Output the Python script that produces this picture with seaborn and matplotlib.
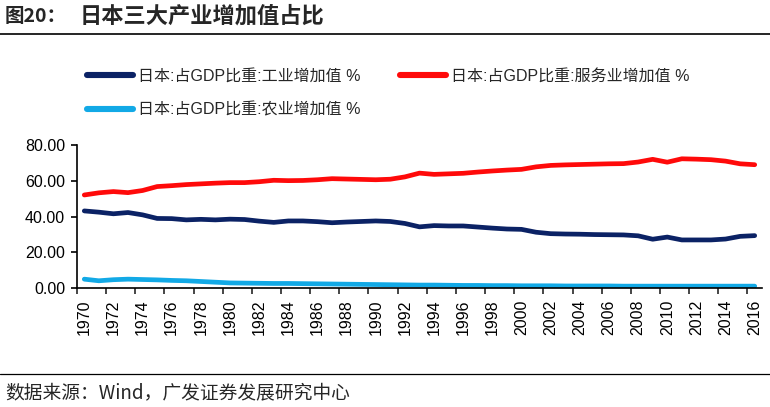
import matplotlib
matplotlib.use("Agg")
import matplotlib.pyplot as plt
from matplotlib.lines import Line2D
import seaborn as sns
import pandas as pd

years = list(range(1970, 2017))
industry = [43.2, 42.5, 41.6, 42.3, 41.0, 39.0, 38.9, 38.2, 38.5, 38.2,
            38.6, 38.4, 37.5, 36.8, 37.6, 37.6, 37.2, 36.6, 37.0, 37.3,
            37.6, 37.3, 36.2, 34.3, 35.0, 34.8, 34.8, 34.2, 33.6, 33.1,
            32.9, 31.3, 30.5, 30.3, 30.2, 30.0, 29.9, 29.8, 29.3, 27.4,
            28.6, 27.0, 27.0, 27.0, 27.5, 29.0, 29.4]
services = [52.1, 53.3, 54.0, 53.4, 54.6, 56.8, 57.3, 57.9, 58.3, 58.7,
            59.0, 59.0, 59.5, 60.3, 60.1, 60.2, 60.6, 61.2, 61.0, 60.8,
            60.6, 60.9, 62.2, 64.3, 63.6, 63.9, 64.2, 64.9, 65.5, 66.0,
            66.4, 67.8, 68.6, 68.9, 69.1, 69.3, 69.5, 69.6, 70.5, 72.0,
            70.4, 72.3, 72.1, 71.8, 71.0, 69.5, 69.0]
agriculture = [5.1, 4.2, 4.8, 5.1, 4.9, 4.7, 4.4, 4.2, 3.8, 3.4,
               3.0, 2.9, 2.8, 2.7, 2.7, 2.6, 2.5, 2.4, 2.3, 2.2,
               2.1, 2.0, 1.9, 1.8, 1.8, 1.7, 1.6, 1.6, 1.5, 1.5,
               1.4, 1.4, 1.4, 1.3, 1.3, 1.3, 1.3, 1.2, 1.2, 1.2,
               1.2, 1.2, 1.2, 1.2, 1.2, 1.2, 1.2]

label_ind = "日本:占GDP比重:工业增加值 %"
label_srv = "日本:占GDP比重:服务业增加值 %"
label_agr = "日本:占GDP比重:农业增加值 %"
series_names = [label_ind, label_srv, label_agr]
colors = {label_ind: "#0B2265", label_srv: "#FF0A0A", label_agr: "#12A9E6"}

yticks = [0, 20, 40, 60, 80]

title_head = "图20："
title_text = "日本三大产业增加值占比"
source_text = "数据来源：Wind，广发证券发展研究中心"

df = pd.concat([
    pd.DataFrame({"year": years, "value": industry, "series": label_ind}),
    pd.DataFrame({"year": years, "value": services, "series": label_srv}),
    pd.DataFrame({"year": years, "value": agriculture, "series": label_agr}),
])

sns.set_style("ticks")
plt.rcParams["font.family"] = ["Liberation Sans", "Noto Sans CJK SC", "DejaVu Sans"]

W, H = 770, 407
fig = plt.figure(figsize=(W / 100, H / 100), dpi=100)
ax = fig.add_axes([77 / W, 1 - 288.3 / H, (762 - 77) / W, (288.3 - 145) / H])

sns.lineplot(data=df, x="year", y="value", hue="series", hue_order=series_names,
             palette=colors, linewidth=3.4, ax=ax, legend=False)
for l in ax.get_lines():
    l.set_solid_joinstyle("round")
    l.set_solid_capstyle("round")

ax.set_xlim(years[0] - 0.5, years[-1] + 0.5)
ax.set_ylim(0, 80)
ax.set_xlabel("")
ax.set_ylabel("")
for s in ["top", "right"]:
    ax.spines[s].set_visible(False)
for s in ["left", "bottom"]:
    ax.spines[s].set_color("black")
    ax.spines[s].set_linewidth(1.2)

ax.set_yticks(yticks)
ax.set_yticklabels([f"{v:.2f}" for v in yticks])
ax.tick_params(axis="y", direction="out", length=4.5, width=1.2, labelsize=11.5,
               pad=4, colors="black")

major = [y - 0.5 for y in years[::2] if y - 0.5 < years[-1]]
ax.set_xticks(major)
ax.set_xticklabels([])
ax.set_xticks(years[::2], minor=True)
ax.set_xticklabels([str(y) for y in years[::2]], minor=True, rotation=90)
ax.tick_params(axis="x", which="major", direction="out", length=4.5, width=1.2)
ax.tick_params(axis="x", which="minor", length=0, labelsize=11.5, pad=8,
               colors="black")
ax.grid(False)

h = {l: Line2D([], [], color=colors[l], lw=4.4) for l in series_names}
leg_font = {"size": 11.5, "family": ["Liberation Sans", "Noto Sans CJK SC"]}
leg1 = fig.legend([h[label_ind], h[label_agr]], [label_ind, label_agr],
                  loc="upper left", bbox_to_anchor=(87 / W, 1 - 69 / H),
                  frameon=False, prop=leg_font, handlelength=2.9,
                  handletextpad=0.3, labelspacing=1.13, borderpad=0,
                  borderaxespad=0)
leg2 = fig.legend([h[label_srv]], [label_srv],
                  loc="upper left", bbox_to_anchor=(400 / W, 1 - 69 / H),
                  frameon=False, prop=leg_font, handlelength=2.9,
                  handletextpad=0.3, borderpad=0, borderaxespad=0)

title_font = ["Noto Sans CJK SC", "DejaVu Sans"]
fig.text(5 / W, 1 - 16 / H, title_head, fontsize=14, fontweight="bold",
         family=title_font, va="center", ha="left")
fig.text(80 / W, 1 - 16 / H, title_text, fontsize=16, fontweight="bold",
         family=title_font, va="center", ha="left")
fig.add_artist(Line2D([0, 1], [1 - 33.5 / H] * 2, transform=fig.transFigure,
                      color="black", lw=1.2))
fig.add_artist(Line2D([0, 1], [1 - 374 / H] * 2, transform=fig.transFigure,
                      color="black", lw=0.9))
fig.text(5 / W, 1 - 393 / H, source_text, fontsize=13.5,
         family=["Noto Sans CJK SC", "DejaVu Sans"], va="center", ha="left")

fig.savefig("out.png", dpi=100, facecolor="white")
